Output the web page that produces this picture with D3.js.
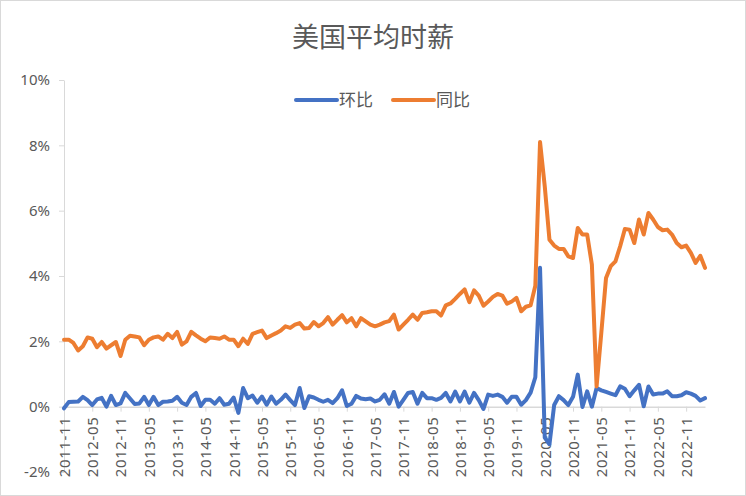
<!DOCTYPE html>
<html>
<head>
<meta charset="utf-8">
<script src="https://cdn.jsdelivr.net/npm/d3@7"></script>
<style>
  body { margin: 0; background: #fff; }
  text { font-family: "Noto Sans CJK SC", "Noto Sans", sans-serif; fill: #595959; }
</style>
</head>
<body>
<div id="chart"></div>
<script>
/* chart data: US average hourly earnings, monthly, 2011-11 .. 2023-03 (%) */
const title = "美国平均时薪";
const seriesNames = ["环比", "同比"];

// month-over-month
const mom = [
  -0.05, 0.14, 0.15, 0.16, 0.30, 0.20, 0.05, 0.22, 0.27, 0.00,
  0.33, 0.05, 0.10, 0.42, 0.25, 0.08, 0.10, 0.30, 0.05, 0.30,
  0.05, 0.15, 0.16, 0.18, 0.30, 0.12, 0.05, 0.30, 0.42, 0.02,
  0.21, 0.21, 0.09, 0.26, 0.06, 0.09, 0.28, -0.19, 0.57, 0.26,
  0.34, 0.12, 0.31, 0.06, 0.31, 0.09, 0.21, 0.37, 0.20, 0.05,
  0.57, -0.04, 0.32, 0.28, 0.21, 0.15, 0.21, 0.11, 0.26, 0.50,
  0.02, 0.09, 0.33, 0.25, 0.23, 0.25, 0.16, 0.21, 0.38, 0.09,
  0.45, 0.00, 0.21, 0.42, 0.45, 0.09, 0.42, 0.26, 0.26, 0.21,
  0.27, 0.42, 0.16, 0.46, 0.16, 0.46, 0.12, 0.42, 0.20, -0.07,
  0.37, 0.33, 0.37, 0.30, 0.12, 0.30, 0.30, 0.06, 0.20, 0.43,
  0.90, 4.25, -0.95, -1.15, 0.05, 0.32, 0.20, 0.05, 0.30, 0.98,
  -0.01, 0.47, 0.00, 0.57, 0.50, 0.45, 0.40, 0.35, 0.62, 0.55,
  0.32, 0.50, 0.67, 0.01, 0.62, 0.37, 0.40, 0.40, 0.47, 0.32,
  0.32, 0.35, 0.44, 0.40, 0.33, 0.19, 0.26
];

// year-over-year
const yoy = [
  2.05, 2.05, 1.95, 1.72, 1.85, 2.12, 2.08, 1.82, 1.98, 1.78,
  1.88, 1.98, 1.55, 2.05, 2.17, 2.15, 2.12, 1.88, 2.05, 2.12,
  2.15, 2.05, 2.23, 2.10, 2.29, 1.90, 2.00, 2.29, 2.18, 2.08,
  2.00, 2.12, 2.10, 2.08, 2.15, 2.05, 2.05, 1.85, 2.08, 1.92,
  2.23, 2.28, 2.33, 2.10, 2.18, 2.25, 2.33, 2.46, 2.41, 2.51,
  2.56, 2.39, 2.41, 2.59, 2.46, 2.56, 2.74, 2.51, 2.66, 2.80,
  2.58, 2.71, 2.46, 2.71, 2.61, 2.51, 2.46, 2.51, 2.58, 2.62,
  2.82, 2.36, 2.51, 2.66, 2.82, 2.66, 2.87, 2.89, 2.92, 2.92,
  2.79, 3.10, 3.16, 3.30, 3.45, 3.59, 3.20, 3.56, 3.40, 3.09,
  3.22, 3.36, 3.45, 3.40, 3.15, 3.22, 3.33, 2.92, 3.06, 3.10,
  3.70, 8.10, 6.75, 5.11, 4.93, 4.83, 4.83, 4.60, 4.55, 5.47,
  5.27, 5.27, 4.35, 0.62, 2.26, 3.94, 4.30, 4.45, 4.91, 5.44,
  5.42, 5.01, 5.73, 5.27, 5.93, 5.73, 5.50, 5.40, 5.42, 5.27,
  5.01, 4.88, 4.93, 4.71, 4.40, 4.62, 4.25
];

// category labels, one per month
const months = [];
for (let i = 0; i < mom.length; i++) {
  const m = 10 + i; // 2011-11 is month index 10 of 2011
  const yr = 2011 + Math.floor(m / 12);
  months.push(yr + "-" + String(m % 12 + 1).padStart(2, "0"));
}
const yTicks = [-2, 0, 2, 4, 6, 8, 10];

/* dimensions */
const W = 746, H = 496;
const plot = {left: 64, right: 705, top: 80, bottom: 472};

const svg = d3.select("#chart").append("svg")
  .attr("width", W)
  .attr("height", H);

svg.append("rect")
  .attr("x", 0.5).attr("y", 0.5)
  .attr("width", W - 1).attr("height", H - 1)
  .attr("fill", "#fff")
  .attr("stroke", "#d9d9d9");

/* scales */
const x = d3.scalePoint()
  .domain(months)
  .range([plot.left, plot.right]);

const y = d3.scaleLinear()
  .domain([-2, 10])
  .range([plot.bottom, plot.top]);

/* title */
svg.append("text")
  .attr("x", 373)
  .attr("y", 47)
  .attr("text-anchor", "middle")
  .style("font-size", "27px")
  .text(title);

/* y axis */
const yAxis = svg.append("g")
  .attr("transform", `translate(${plot.left},0)`)
  .call(d3.axisLeft(y).tickValues(yTicks).tickFormat(d => d + "%").tickSize(5).tickSizeOuter(0));
yAxis.select(".domain").attr("stroke", "#d9d9d9");
yAxis.selectAll(".tick line").attr("stroke", "#d9d9d9");
yAxis.selectAll(".tick text")
  .attr("x", -14)
  .style("font-size", "15px")
  .style("font-family", "'Noto Sans', sans-serif")
  .attr("fill", "#595959");

/* x axis at 0% */
const xAxis = svg.append("g")
  .attr("transform", `translate(0,${y(0)})`)
  .call(d3.axisBottom(x)
    .tickValues(months.filter((d, i) => i % 6 === 0))
    .tickSize(5).tickSizeOuter(0));
xAxis.select(".domain").attr("stroke", "#d9d9d9").attr("stroke-width", 1.5);
xAxis.selectAll(".tick line").attr("stroke", "#d9d9d9");
xAxis.selectAll(".tick text")
  .attr("transform", "rotate(-90)")
  .attr("text-anchor", "end")
  .attr("x", -10)
  .attr("y", 0)
  .attr("dy", "0.36em")
  .style("font-size", "15px")
  .style("font-family", "'Noto Sans', sans-serif")
  .style("letter-spacing", "0.6px")
  .attr("fill", "#595959");

/* lines */
const colors = ["#4472C4", "#ED7D31"];
const line = d3.line()
  .x((d, i) => x(months[i]))
  .y(d => y(d));

[mom, yoy].forEach((s, k) => {
  svg.append("path")
    .datum(s)
    .attr("fill", "none")
    .attr("stroke", colors[k])
    .attr("stroke-width", 4)
    .attr("stroke-linejoin", "round")
    .attr("stroke-linecap", "round")
    .attr("d", line);
});

/* legend */
const legendX = [296, 393];
seriesNames.forEach((name, k) => {
  const g = svg.append("g").attr("transform", `translate(${legendX[k]},100)`);
  g.append("line")
    .attr("x1", 0).attr("x2", 41)
    .attr("stroke", colors[k])
    .attr("stroke-width", 4)
    .attr("stroke-linecap", "round");
  g.append("text")
    .attr("x", 43)
    .attr("dy", "0.36em")
    .style("font-size", "17px")
    .text(name);
});
</script>
</body>
</html>
